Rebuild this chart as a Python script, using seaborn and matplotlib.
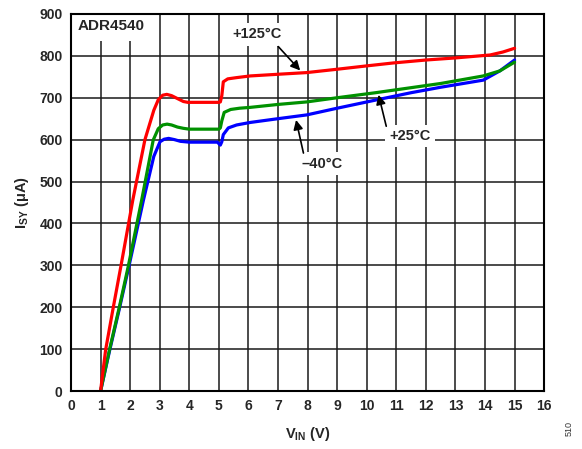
import pandas as pd
import matplotlib
matplotlib.use('Agg')
import matplotlib.pyplot as plt
from matplotlib.patches import Rectangle
import seaborn as sns

# curve data
red_x = [1.0, 1.17, 1.43, 1.69, 2.09, 2.5, 2.8, 2.95, 3.1, 3.24, 3.4, 3.6, 3.8, 3.95, 4.5, 5.0, 5.05, 5.1, 5.15,
         5.3, 5.6, 6.06, 7.0, 7.97, 9.0, 10.0, 10.9, 12.0, 13.0, 14.17, 14.6, 15.0]
red_y = [0, 98, 200, 299, 456, 600, 670, 695, 706, 708, 705, 698, 691, 689, 689, 689, 690, 705, 738,
         745, 748, 752, 756, 760, 768, 776, 783, 790, 795, 802, 809, 818]

green_x = [1.0, 1.3, 1.63, 1.94, 2.39, 2.78, 2.95, 3.1, 3.25, 3.4, 3.6, 3.8, 4.0, 4.5, 5.0, 5.05, 5.1, 5.18,
           5.4, 5.7, 6.06, 7.0, 7.97, 9.0, 10.3, 11.5, 12.5, 13.94, 14.5, 15.0]
green_y = [0, 98, 199, 299, 456, 599, 626, 635, 637, 635, 630, 627, 625, 625, 625, 628, 645, 665,
           672, 675, 677, 684, 690, 700, 712, 724, 734, 752, 764, 785]

blue_x = [1.0, 1.3, 1.63, 1.95, 2.45, 2.8, 3.01, 3.15, 3.3, 3.5, 3.7, 4.0, 4.5, 4.95, 5.05, 5.1, 5.15, 5.32,
          5.6, 6.06, 7.0, 7.97, 9.0, 10.34, 11.5, 12.5, 13.94, 14.5, 15.0]
blue_y = [0, 95, 195, 295, 456, 560, 595, 601, 603, 600, 596, 594, 594, 594, 587, 595, 612, 628,
          635, 641, 650, 659, 675, 695, 712, 725, 742, 764, 790]

x_ticks = list(range(0, 17))
y_ticks = list(range(0, 1000, 100))

sns.set_style('white')
plt.rcParams['font.family'] = ['Liberation Sans', 'DejaVu Sans']
plt.rcParams['font.weight'] = 'bold'
plt.rcParams['mathtext.fontset'] = 'custom'
plt.rcParams['mathtext.bf'] = 'Liberation Sans:bold'
plt.rcParams['mathtext.rm'] = 'Liberation Sans:bold'
plt.rcParams['mathtext.default'] = 'bf'

fig = plt.figure(figsize=(5.82, 4.49), dpi=100)
ax = fig.add_axes([0.122, 0.129, 0.813, 0.840])

series = [(red_x, red_y, '#ff0000'), (green_x, green_y, '#009100'), (blue_x, blue_y, '#0000ff')]
for xs, ys, c in series[::-1]:
    d = pd.DataFrame({'x': xs, 'y': ys})
    sns.lineplot(data=d, x='x', y='y', color=c, lw=2.3, sort=False, ax=ax, zorder=3)

ax.set_xlim(0, 16)
ax.set_ylim(0, 900)
ax.set_xticks(x_ticks)
ax.set_yticks(y_ticks)
ax.grid(True, color='#1a1a1a', lw=1.1)
ax.set_axisbelow(True)
ax.tick_params(length=0, labelsize=10, pad=6)
for lab in ax.get_xticklabels() + ax.get_yticklabels():
    lab.set_fontweight('bold')
for s in ax.spines.values():
    s.set_color('black')
    s.set_linewidth(1.5)
    s.set_zorder(6)

ax.set_xlabel(r'V$_{\mathbf{IN}}$ (V)', fontsize=10.5, fontweight='bold', labelpad=8)
ax.set_ylabel(r'I$_{\mathbf{SY}}$ ($\mathbf{\mu}$A)', fontsize=10.5, fontweight='bold', labelpad=6)

# white patch behind the part label, hides the grid there
ax.add_patch(Rectangle((0, 836), 2.6, 64, facecolor='white', edgecolor='none', zorder=1))
ax.text(0.22, 870, 'ADR4540', fontsize=11, fontweight='bold', va='center', ha='left', zorder=4)

box = dict(facecolor='white', edgecolor='none', pad=3)
arrow = dict(arrowstyle='-|>', color='black', lw=1.2, mutation_scale=14, shrinkA=0, shrinkB=0)
ax.text(6.28, 851, '+125°C', fontsize=10.5, fontweight='bold', ha='center', va='center', bbox=box, zorder=4)
ax.annotate('', xy=(7.75, 765), xytext=(7.01, 822), arrowprops=arrow, zorder=5)

ax.text(11.47, 609, '+25°C', fontsize=10.5, fontweight='bold', ha='center', va='center', bbox=box, zorder=4)
ax.annotate('', xy=(10.4, 707), xytext=(10.66, 632), arrowprops=arrow, zorder=5)

ax.text(8.48, 543, '\u201340°C', fontsize=10.5, fontweight='bold', ha='center', va='center', bbox=box, zorder=4)
ax.annotate('', xy=(7.61, 647), xytext=(7.86, 568), arrowprops=arrow, zorder=5)

fig.text(0.978, 0.03, '510', fontsize=6.5, fontweight='normal', rotation=90, ha='center', va='bottom', color='#333333')

fig.savefig('out.png', dpi=100)
plt.close(fig)
